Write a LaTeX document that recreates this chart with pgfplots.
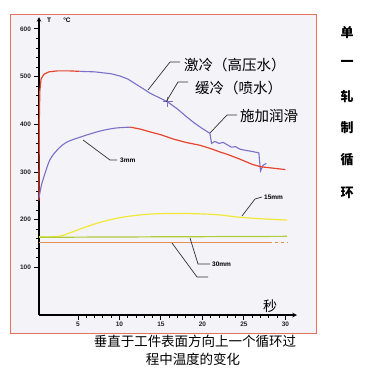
\documentclass[border=0pt]{standalone}
\usepackage{pgfplots}
\pgfplotsset{compat=1.18}
\usepackage{fontspec}
\setmainfont{Liberation Sans}
\newfontfamily\cjk{Noto Sans CJK SC}
\definecolor{cblue}{HTML}{7A70C8}
\definecolor{cred}{HTML}{E8442E}
\definecolor{cyel}{HTML}{F2E838}
\definecolor{cgrn}{HTML}{B0CC3A}
\definecolor{corg}{HTML}{E09050}
\definecolor{frame}{HTML}{E8705E}
\definecolor{bg}{HTML}{F3F3F8}
\definecolor{lead}{HTML}{333333}
\begin{document}
\begin{tikzpicture}
\begin{scope}[x=1pt,y=1pt]
\path[use as bounding box] (0,0) rectangle (380,-381);
\filldraw[fill=bg,draw=frame,line width=1pt] (10,-14) rectangle (316,-333);
\end{scope}
\begin{axis}[
  at={(39pt,-315pt)}, anchor=south west,
  scale only axis, width=258pt, height=298pt,
  xmin=0.3, xmax=31.4, ymin=0, ymax=625,
  axis lines=left,
  axis line style={black,line width=1.1pt,-stealth},
  xtick={5,10,15,20,25,30}, ytick={100,200,300,400,500,600},
  minor x tick num=4, minor y tick num=4,
  tick align=outside,
  major tick length=4.5pt, minor tick length=2.8pt,
  tick style={black,line width=0.9pt},
  ticklabel style={font=\fontsize{6.5}{7}\selectfont\bfseries, text=black!85},
  xticklabel style={yshift=1pt},
  /pgf/number format/assume math mode=true,
  clip=false,
]
% surface: red part
\addplot[cred, line width=1.2pt] coordinates {
(0.3,240)(0.33,400)(0.4,470)(0.55,495)(0.9,505)(1.5,510)(2.5,512)(4,512)(5.2,511)};
% surface: blue part
\addplot[cblue, line width=1.1pt] coordinates {
(5.2,511)(7,510)(9,506)(10.1,501)(11,495)(12,484)(13,473)(13.7,465)(15,454)(15.8,447)
(17,432)(18,417)(19,403)(20,391)(20.9,381)(21.1,360)(21.5,364)(22,360)(22.5,362)(23,357)
(23.5,352)(24,353)(24.5,348)(25,346)(26,343)(26.8,340)(27,302)(27.3,314)(27.7,318)};
\addplot[only marks, mark=+, mark size=5pt, cblue, line width=0.8pt] coordinates {(15.8,447)};
% 3 mm: purple part
\addplot[cblue, line width=1.1pt, smooth] coordinates {
(0.3,245)(0.5,265)(0.77,283)(1.6,325)(2.6,348)(3.7,363)(5.6,375)(7.7,386)(9.5,392)(11.3,394)};
% 3 mm: red part
\addplot[cred, line width=1.2pt] coordinates {
(11.3,394)(12.5,390)(13.7,384)(15,378)(16.5,369)(18,362)(19.7,356)(21,349)(22.1,342)
(23,337)(24.5,327)(26,316)(27,311)(28,309)(29,307)(30,305)};
% 15 mm
\addplot[cyel, line width=1.2pt, smooth] coordinates {
(0.3,164)(2,164)(3,166)(4,172)(6,185)(8,196)(10,204)(12,209)(14,212)(17,213)(20,212)
(22,210)(24.5,205)(27,202)(30.2,199)};
% green
\addplot[cgrn, line width=1.2pt] coordinates {(0.3,163)(15,164)(30.2,165)};
% orange
\addplot[corg, line width=1pt] coordinates {(0.3,153)(15,153)(28,153)};
\addplot[corg, line width=1pt, dashed] coordinates {(28,153)(30.2,153)};
\end{axis}
\begin{scope}[x=1pt,y=1pt]
% axis heading
\node[font=\fontsize{6.5}{7}\selectfont\bfseries] at (49,-20) {T};
\node[font=\fontsize{6.5}{7}\selectfont\bfseries] at (67,-20) {°C};
% leaders
\draw[lead,line width=0.7pt] (148,-90) -- (170,-62) -- (180,-62);
\draw[lead,line width=0.7pt] (166,-102) -- (178,-82) -- (188,-82);
\draw[lead,line width=0.7pt] (210,-133) -- (227,-115) -- (237,-115);
\draw[lead,line width=0.7pt] (83,-140) -- (110,-160) -- (117,-160);
\draw[lead,line width=0.7pt] (242,-216) -- (255,-199) -- (262,-197);
\draw[lead,line width=0.7pt] (190,-238) -- (198,-264) -- (210,-264);
\draw[lead,line width=0.7pt] (172,-243) -- (197,-277) -- (208,-277);
\node[font=\fontsize{6.5}{7}\selectfont\bfseries, anchor=west, inner sep=1pt] at (119,-160) {3mm};
\node[font=\fontsize{6.5}{7}\selectfont\bfseries, anchor=west, inner sep=1pt] at (263,-197) {15mm};
\node[font=\fontsize{6.5}{7}\selectfont\bfseries, anchor=west, inner sep=1pt] at (211,-264) {30mm};
% Chinese labels
\node[font=\cjk\fontsize{14.5}{16}\selectfont, anchor=west, inner sep=0] at (184,-65) {激冷（高压水）};
\node[font=\cjk\fontsize{14.5}{16}\selectfont, anchor=west, inner sep=0] at (195,-88) {缓冷（喷水）};
\node[font=\cjk\fontsize{14.5}{16}\selectfont, anchor=west, inner sep=0] at (240,-116) {施加润滑};
\node[font=\cjk\fontsize{14}{16}\selectfont, inner sep=0] at (270,-306) {秒};
% right column
\foreach \c/\y in {单/33,一/63,轧/97,制/128,循/160,环/193}
  \node[font=\cjk\bfseries\fontsize{13}{14}\selectfont, inner sep=0] at (347,-\y) {\c};
% caption
\node[font=\cjk\fontsize{13.5}{15}\selectfont, inner sep=0] at (195,-341) {垂直于工件表面方向上一个循环过};
\node[font=\cjk\fontsize{13.5}{15}\selectfont, inner sep=0] at (193,-359) {程中温度的变化};
\end{scope}
\end{tikzpicture}
\end{document}
